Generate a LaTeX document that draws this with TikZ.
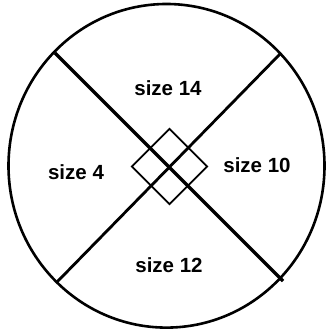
\documentclass[tikz,border=0pt]{standalone}
\usepackage{fontspec}
\setmainfont{Liberation Sans}
\usetikzlibrary{shapes.geometric}
\begin{document}
\begin{tikzpicture}[x=1pt,y=-1pt,
  lbl/.style={font=\bfseries\fontsize{20.5}{24}\selectfont, inner sep=0pt},
  rim/.style={line width=2.6pt},
  cut/.style={line width=2.8pt},
  dia/.style={draw, diamond, aspect=1, line width=1.7pt, inner sep=0pt, minimum width=76pt, minimum height=76pt}]
\useasboundingbox (0,0) rectangle (326,331);
\draw[rim] (166.5,165.8) ellipse [x radius=158, y radius=161.8];
\coordinate (tl) at (55,53);
\coordinate (br) at (283,281);
\coordinate (tr) at (281,53);
\coordinate (bl) at (57,282);
\draw[cut, line width=3.2pt] (tl) -- (br);
\draw[cut] (tr) -- (bl);
\node[dia] (d) at (169.5,166.5) {};
\node[lbl] (s14) at (168,88) {size 14};
\node[lbl] (s4) at (76,172) {size 4};
\node[lbl] (s10) at (257,165) {size 10};
\node[lbl] (s12) at (169,265) {size 12};
\end{tikzpicture}
\end{document}
